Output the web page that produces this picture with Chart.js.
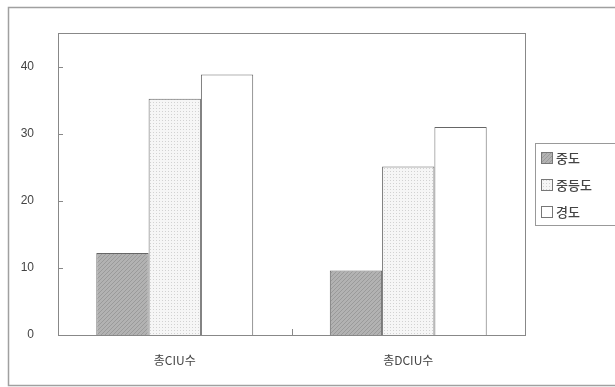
<!DOCTYPE html>
<html><head><meta charset="utf-8">
<script src="https://cdn.jsdelivr.net/npm/chart.js@4/dist/chart.umd.min.js"></script>
<style>html,body{margin:0;padding:0;background:#fff}#wrap{width:615px;height:387px}</style>
</head><body><div id="wrap"><canvas id="c" width="615" height="387"></canvas></div>
<script>
const categories = ["총CIU수", "총DCIU수"];
const seriesNames = ["중도", "중등도", "경도"];
const severe = [12.2, 9.6];
const moderate = [35.2, 25.1];
const mild = [38.8, 31.0];
const yTicks = [0, 10, 20, 30, 40];

function hatchPattern() {
  const c = document.createElement('canvas'); c.width = 4; c.height = 4;
  const g = c.getContext('2d');
  g.fillStyle = '#b2b2b2'; g.fillRect(0, 0, 4, 4);
  g.strokeStyle = '#9a9a9a'; g.lineWidth = 1;
  g.beginPath(); g.moveTo(-1, 5); g.lineTo(5, -1); g.stroke();
  return g.createPattern(c, 'repeat');
}
function dotPattern() {
  const c = document.createElement('canvas'); c.width = 3; c.height = 3;
  const g = c.getContext('2d');
  g.fillStyle = '#f6f6f6'; g.fillRect(0, 0, 3, 3);
  g.fillStyle = '#d2d2d2'; g.fillRect(0, 0, 1, 1);
  return g.createPattern(c, 'repeat');
}
const fills = [hatchPattern(), dotPattern(), '#ffffff'];

const deco = {
  id: 'deco',
  beforeDraw(chart) {
    const ctx = chart.ctx;
    ctx.save();
    ctx.fillStyle = '#fff'; ctx.fillRect(0, 0, chart.width, chart.height);
    ctx.strokeStyle = '#a0a0a0'; ctx.lineWidth = 1.5;
    ctx.strokeRect(8.5, 7.5, 640, 378);
    ctx.restore();
  },
  afterDraw(chart) {
    const ctx = chart.ctx, a = chart.chartArea;
    const y = chart.scales.y, x = chart.scales.x;
    ctx.save();
    ctx.strokeStyle = '#888'; ctx.lineWidth = 1;
    ctx.strokeRect(Math.round(a.left) + 0.5, Math.round(a.top) + 0.5, Math.round(a.right - a.left), Math.round(a.bottom - a.top));
    ctx.beginPath();
    yTicks.forEach(v => { const py = Math.round(y.getPixelForValue(v)) + 0.5; ctx.moveTo(a.left, py); ctx.lineTo(a.left + 5, py); });
    const mid = Math.round((x.getPixelForValue(0) + x.getPixelForValue(1)) / 2) + 0.5;
    ctx.moveTo(mid, a.bottom); ctx.lineTo(mid, a.bottom - 6);
    ctx.stroke();
    // legend
    const lx = 535, ly = 143;
    ctx.strokeStyle = '#999';
    ctx.strokeRect(lx + 0.5, ly + 0.5, 100, 82);
    ctx.font = '500 13px "Noto Sans CJK KR"';
    ctx.textBaseline = 'middle';
    chart.data.datasets.forEach((ds, i) => {
      const ry = 158 + i * 27;
      ctx.fillStyle = ds.backgroundColor;
      ctx.fillRect(541, ry - 6, 11, 11);
      ctx.strokeStyle = '#777';
      ctx.strokeRect(541.5, ry - 5.5, 11, 11);
      ctx.fillStyle = '#444';
      ctx.fillText(ds.label, 556, ry);
    });
    ctx.restore();
  }
};

new Chart(document.getElementById('c'), {
  type: 'bar',
  data: {
    labels: categories,
    datasets: [
      { label: seriesNames[0], data: severe, backgroundColor: fills[0] },
      { label: seriesNames[1], data: moderate, backgroundColor: fills[1] },
      { label: seriesNames[2], data: mild, backgroundColor: fills[2] }
    ].map(d => Object.assign(d, { borderColor: '#666', borderWidth: 1, borderSkipped: 'bottom', categoryPercentage: 0.672, barPercentage: 1 }))
  },
  options: {
    responsive: false, animation: false,
    layout: { padding: { left: 0, right: 90, top: 33, bottom: 0 } },
    plugins: { legend: { display: false }, tooltip: { enabled: false } },
    scales: {
      x: {
        grid: { display: false }, border: { display: false },
        ticks: { color: '#444', font: { family: '"Noto Sans CJK KR"', size: 12 }, padding: 10 },
        afterFit(s) { s.height = 52; }
      },
      y: {
        min: 0, max: 45,
        grid: { display: false }, border: { display: false },
        afterBuildTicks(s) { s.ticks = yTicks.map(v => ({ value: v })); },
        ticks: { color: '#444', font: { family: '"Liberation Sans"', size: 12 }, padding: 16 },
        afterFit(s) { s.width = 58; }
      }
    }
  },
  plugins: [deco]
});
</script></body></html>
